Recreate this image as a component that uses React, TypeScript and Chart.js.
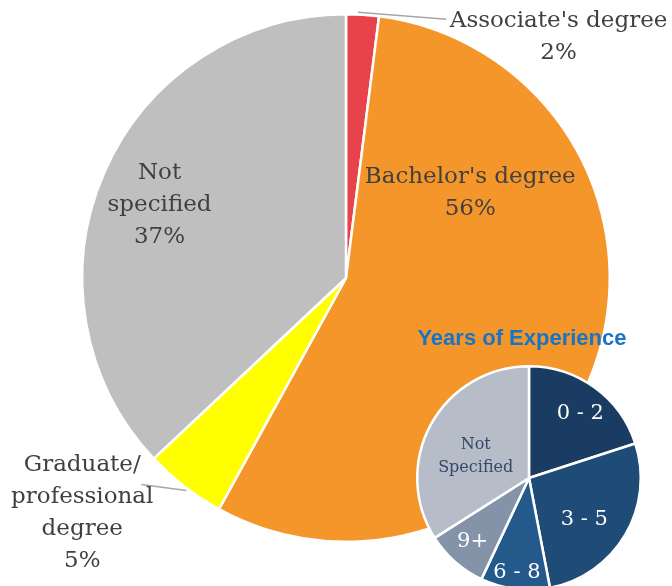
import React, { useEffect, useRef } from "react";
import { Chart, registerables } from "chart.js";

Chart.register(...registerables);

const degreeLabels = ["Associate's degree", "Bachelor's degree", "Graduate/professional degree", "Not specified"];
const degreeValues = [2, 56, 5, 37];
const degreeLines = [["Associate's degree"], ["Bachelor's degree"], ["Graduate/", "professional", "degree"], ["Not", "specified"]];
const degreeColors = ["#e8434b", "#f5962a", "#ffff00", "#bfbfbf"];

const expLabels = ["0 - 2", "3 - 5", "6 - 8", "9+", "Not Specified"];
const expValues = [20, 27, 10, 9, 34];
const expLines = [["0 - 2"], ["3 - 5"], ["6 - 8"], ["9+"], ["Not", "Specified"]];
const expColors = ["#1b3c62", "#1f4b77", "#245a8b", "#8593a8", "#b6bcc8"];
const expTitle = "Years of Experience";

// label anchor positions in units of radius, relative to pie centre
const degreeLabelPos = [[0.806, -0.914], [0.471, -0.323], [-1.0, 0.89], [-0.707, -0.278]];
const degreeLeaders = [[[0.046, -1.008], [0.38, -0.981]], null, [[-0.605, 0.806], [-0.776, 0.783]], null];
const expLabelPos = [[0.459, -0.577], [0.495, 0.369], [-0.108, 0.847], [-0.505, 0.568], [-0.477, -0.194]];

const SERIF = "'DejaVu Serif', 'Liberation Serif', serif";

export default function App() {
  const bigRef = useRef<HTMLCanvasElement | null>(null);
  const smallRef = useRef<HTMLCanvasElement | null>(null);

  useEffect(() => {
    document.body.style.margin = "0";
    const bigLabels = {
      id: "bigLabels",
      afterDatasetsDraw(chart: any) {
        const ctx = chart.ctx;
        const arc = chart.getDatasetMeta(0).data[0];
        const cx = arc.x, cy = arc.y, R = arc.outerRadius;
        ctx.save();
        degreeLeaders.forEach((l) => {
          if (!l) return;
          ctx.strokeStyle = "#a6a6a6";
          ctx.lineWidth = 1.5;
          ctx.beginPath();
          ctx.moveTo(cx + l[0][0] * R, cy + l[0][1] * R);
          ctx.lineTo(cx + l[1][0] * R, cy + l[1][1] * R);
          ctx.stroke();
        });
        ctx.font = `23px ${SERIF}`;
        ctx.fillStyle = "#404040";
        ctx.textAlign = "center";
        ctx.textBaseline = "middle";
        const lh = 32;
        degreeValues.forEach((v, i) => {
          const lines = [...degreeLines[i], `${v}%`];
          const px = cx + degreeLabelPos[i][0] * R;
          const py = cy + degreeLabelPos[i][1] * R;
          const start = py - ((lines.length - 1) * lh) / 2;
          lines.forEach((t, j) => ctx.fillText(t, px, start + j * lh));
        });
        ctx.restore();
      },
    };
    const big = new Chart(bigRef.current as HTMLCanvasElement, {
      type: "pie",
      data: {
        labels: degreeLabels,
        datasets: [{ data: degreeValues, backgroundColor: degreeColors, borderColor: "#ffffff", borderWidth: 2.5 }],
      },
      options: {
        responsive: false,
        animation: false,
        devicePixelRatio: 1,
        layout: { padding: { left: 81, right: 61, top: 13, bottom: 43 } },
        plugins: { legend: { display: false }, tooltip: { enabled: false }, title: { display: false } },
      },
      plugins: [bigLabels],
    } as any);

    const smallLabels = {
      id: "smallLabels",
      afterDatasetsDraw(chart: any) {
        const ctx = chart.ctx;
        const arc = chart.getDatasetMeta(0).data[0];
        const cx = arc.x, cy = arc.y, R = arc.outerRadius;
        ctx.save();
        ctx.textAlign = "center";
        ctx.textBaseline = "middle";
        ctx.font = "bold 22px 'Liberation Sans', Arial, sans-serif";
        ctx.fillStyle = "#1874c4";
        ctx.fillText(expTitle, cx - 0.063 * R, cy - 1.245 * R);
        expValues.forEach((_, i) => {
          const lines = expLines[i];
          const last = i === expValues.length - 1;
          ctx.font = last ? `16px ${SERIF}` : `21px ${SERIF}`;
          ctx.fillStyle = last ? "#34496a" : "#ffffff";
          const lh = last ? 23 : 24;
          const px = cx + expLabelPos[i][0] * R;
          const py = cy + expLabelPos[i][1] * R;
          const start = py - ((lines.length - 1) * lh) / 2;
          lines.forEach((t, j) => ctx.fillText(t, px, start + j * lh));
        });
        ctx.restore();
      },
    };
    const small = new Chart(smallRef.current as HTMLCanvasElement, {
      type: "pie",
      data: {
        labels: expLabels,
        datasets: [{ data: expValues, backgroundColor: expColors, borderColor: "#ffffff", borderWidth: 2.5 }],
      },
      options: {
        responsive: false,
        animation: false,
        devicePixelRatio: 1,
        layout: { padding: { left: 16, right: 30, top: 55, bottom: 9 } },
        plugins: { legend: { display: false }, tooltip: { enabled: false }, title: { display: false } },
      },
      plugins: [smallLabels],
    } as any);

    return () => {
      big.destroy();
      small.destroy();
    };
  }, []);

  return (
    <div style={{ position: "fixed", left: 0, top: 0, width: 672, height: 586, overflow: "hidden", background: "#ffffff" }}>
      <canvas ref={bigRef} width={672} height={586} style={{ position: "absolute", left: 0, top: 0 }} />
      <canvas ref={smallRef} width={272} height={290} style={{ position: "absolute", left: 400, top: 310 }} />
    </div>
  );
}
